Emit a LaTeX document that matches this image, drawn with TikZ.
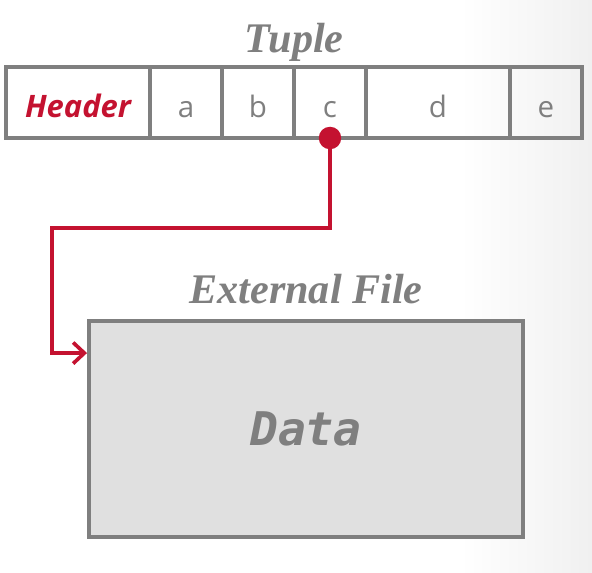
\documentclass[tikz,border=0pt]{standalone}
\usepackage{fontspec}
\usepackage{tikz}
\usetikzlibrary{arrows.meta, positioning, calc, backgrounds}
\setmainfont{Liberation Serif}
\newfontfamily\cellfont{Open Sans}
\newfontfamily\codefont{DejaVu Sans Mono}
\definecolor{cmured}{HTML}{C41230}
\definecolor{boxgray}{HTML}{7F7F7F}
\definecolor{datafill}{HTML}{E0E0E0}
\definecolor{slidegray}{HTML}{F0F0F0}
\tikzset{
    cell/.style={
        rectangle, draw=boxgray, line width=2.8pt, outer sep=0pt, inner sep=0pt,
        minimum width=#1, minimum height=1.775cm,
        text height=22pt, text depth=0pt, text=boxgray,
        font=\cellfont\fontsize{21}{21}\selectfont
    },
    cell/.default=1.8cm,
    headercell/.style={
        cell=3.6cm, text=cmured,
        font=\cellfont\bfseries\itshape\fontsize{22}{22}\selectfont
    },
    filebox/.style={
        rectangle, draw=boxgray, fill=datafill, line width=2.8pt,
        minimum width=10.85cm, minimum height=5.4cm,
        text=boxgray, font=\codefont\bfseries\itshape\fontsize{33}{33}\selectfont
    },
    titlelab/.style={
        font=\bfseries\itshape\fontsize{30}{30}\selectfont, text=boxgray, inner sep=0pt
    },
    ptrdot/.style={
        circle, fill=cmured, minimum size=16pt, inner sep=0pt
    },
    ptrarrow/.style={
        -{Straight Barb[length=8pt, width=15pt, line width=2.6pt]}, line width=2.6pt, color=cmured
    },
}
\begin{document}
\begin{tikzpicture}

    \useasboundingbox (0,0) rectangle (14.8,-14.325);

    % ── Tuple ──
    \node[headercell] (hdr) at (1.95,-2.5625) {Header};
    \node[cell, right=0pt of hdr] (attra) {a};
    \node[cell, right=0pt of attra] (attrb) {b};
    \node[cell, right=0pt of attrb] (attrc) {c};
    \node[cell=3.6cm, right=0pt of attrc] (attrd) {d};
    \node[cell, right=0pt of attrd] (attre) {e};
    \node[titlelab, anchor=base] (tuplelab) at ($(hdr.north west)!0.5!(attre.north east)+(0,0.36)$) {Tuple};

    % ── External File ──
    \node[filebox] (extfile) at (7.65,-10.725) {Data};
    \node[titlelab, anchor=base] (filelab) at ($(extfile.north)+(0,0.4)$) {External File};

    % ── Pointer ──
    \node[ptrdot] (ptr) at (attrc.south) {};
    \coordinate (tgt) at ([yshift=-0.85cm]extfile.north west);
    \draw[ptrarrow] (ptr.center) -- ++(0,-2.25) -| ($(tgt)+(-0.875,0)$) -- (tgt);

    \begin{pgfonlayer}{background}
        \fill[white] (0,0) rectangle (14.8,-14.325);
        \shade[left color=white, right color=slidegray] (11.5,0) rectangle (14.8,-14.325);
    \end{pgfonlayer}

\end{tikzpicture}
\end{document}
